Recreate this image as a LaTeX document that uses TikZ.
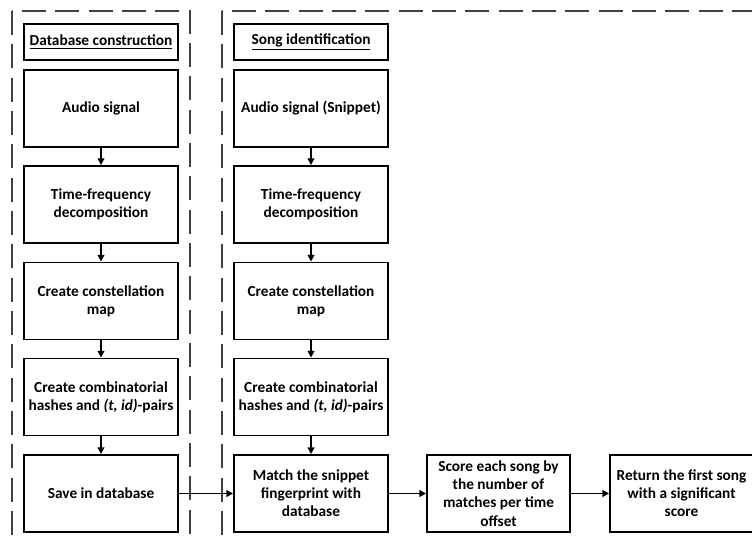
\documentclass[tikz,border=0pt]{standalone}
\usepackage{fontspec}
\setmainfont{Carlito}
\usetikzlibrary{arrows.meta}

\begin{document}
\begin{tikzpicture}[x=0.75pt, y=-0.75pt, >={Triangle[length=5pt,width=5pt]},
  blk/.style={draw, line width=1.4pt, minimum width=115.5pt, minimum height=57.75pt,
    align=center, inner sep=2pt, font=\fontsize{11.5}{13.6}\selectfont\bfseries},
  ttl/.style={blk, minimum height=27pt},
  grp/.style={draw=black!75, line width=1.5pt, dash pattern=on 18pt off 7pt},
  flow/.style={->, line width=1.4pt}]
  \useasboundingbox (0,0) rectangle (752,538);
  \clip (0,0) rectangle (752,538);
  % dashed frames
  \draw[grp] (12,11) rectangle (190,600);
  \draw[grp] (222,11) rectangle (800,600);
  % database construction
  \node[ttl] (dbt) at (101,42) {\underline{Database construction}};
  \node[blk] (d1) at (101,108.5) {Audio signal};
  \node[blk] (d2) at (101,204.5) {Time-frequency\\decomposition};
  \node[blk] (d3) at (101,301) {Create constellation\\map};
  \node[blk] (d4) at (101,397) {Create combinatorial\\hashes and \textit{(t, id)}-pairs};
  \node[blk] (d5) at (101,493.5) {Save in database};
  % song identification
  \node[ttl] (sit) at (311,42) {\underline{Song identification}};
  \node[blk] (s1) at (311,108.5) {Audio signal (Snippet)};
  \node[blk] (s2) at (311,204.5) {Time-frequency\\decomposition};
  \node[blk] (s3) at (311,301) {Create constellation\\map};
  \node[blk] (s4) at (311,397) {Create combinatorial\\hashes and \textit{(t, id)}-pairs};
  \node[blk] (s5) at (311,493.5) {Match the snippet\\fingerprint with\\database};
  \node[blk, minimum width=107.25pt] (s6) at (498.5,493.5) {Score each song by\\the number of\\matches per time\\offset};
  \node[blk, minimum width=107.25pt] (s7) at (681.5,493.5) {Return the first song\\with a significant\\score};
  % arrows
  \draw[flow] (d1) -- (d2);
  \draw[flow] (d2) -- (d3);
  \draw[flow] (d3) -- (d4);
  \draw[flow] (d4) -- (d5);
  \draw[flow] (s1) -- (s2);
  \draw[flow] (s2) -- (s3);
  \draw[flow] (s3) -- (s4);
  \draw[flow] (s4) -- (s5);
  \draw[flow] (d5) -- (s5);
  \draw[flow] (s5) -- (s6);
  \draw[flow] (s6) -- (s7);
\end{tikzpicture}
\end{document}
